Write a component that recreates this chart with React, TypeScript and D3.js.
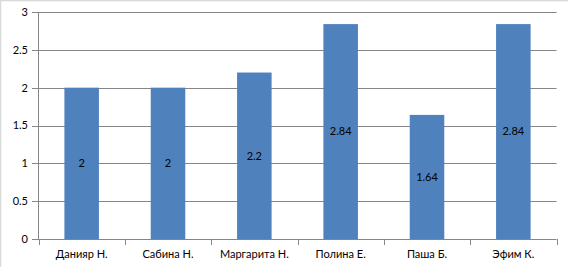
import React from "react";
import * as d3 from "d3";

const categories = ["Данияр Н.", "Сабина Н.", "Маргарита Н.", "Полина Е.", "Паша Б.", "Эфим К."];
const values = [2, 2, 2.2, 2.84, 1.64, 2.84];
const yTicks = [0, 0.5, 1, 1.5, 2, 2.5, 3];

const W = 568;
const H = 267;
const left = 38.5;
const right = 556.5;
const top = 12;
const bottom = 239;

export default function App() {
  const x = d3.scaleBand<string>().domain(categories).range([left, right]).paddingInner(0.6).paddingOuter(0.3);
  const band = d3.scaleBand<string>().domain(categories).range([left, right]);
  const y = d3.scaleLinear().domain([0, 3]).range([bottom, top]);
  const font = "Lato, 'Open Sans', sans-serif";
  const grid = "#868686";
  return (
    <svg width={W} height={H} style={{ position: "absolute", left: 0, top: 0 }} fontFamily={font}>
      <rect x={0} y={0} width={W} height={H} fill="#fff" />
      <line x1={0.5} x2={0.5} y1={0} y2={H} stroke="#d9d9d9" strokeWidth={1.5} />
      <line x1={0} x2={W} y1={0.5} y2={0.5} stroke="#d9d9d9" strokeWidth={1.5} />
      {yTicks.map((t) => (
        <g key={t}>
          <line x1={32} x2={right} y1={Math.round(y(t)) + 0.5} y2={Math.round(y(t)) + 0.5} stroke={grid} />
          <text x={28} y={y(t)} dy="0.35em" textAnchor="end" fontSize={11} fill="#000">
            {String(t)}
          </text>
        </g>
      ))}
      <line x1={left} x2={left} y1={top} y2={bottom} stroke={grid} />
      {[...categories.map((c) => band(c) as number), right].map((bx, i) => (
        <line key={i} x1={Math.round(bx) + 0.5} x2={Math.round(bx) + 0.5} y1={bottom} y2={bottom + 6} stroke={grid} />
      ))}
      {categories.map((c, i) => (
        <g key={c}>
          <rect x={x(c)} y={y(values[i])} width={x.bandwidth()} height={bottom - y(values[i])} fill="#4f81bd" />
          <text x={(x(c) as number) + x.bandwidth() / 2} y={(y(values[i]) + bottom) / 2} dy="0.35em" textAnchor="middle" fontSize={11} fill="#000">
            {String(values[i])}
          </text>
          <text x={(band(c) as number) + band.bandwidth() / 2} y={254} dy="0.35em" textAnchor="middle" fontSize={11} fill="#000">
            {c}
          </text>
        </g>
      ))}
    </svg>
  );
}
